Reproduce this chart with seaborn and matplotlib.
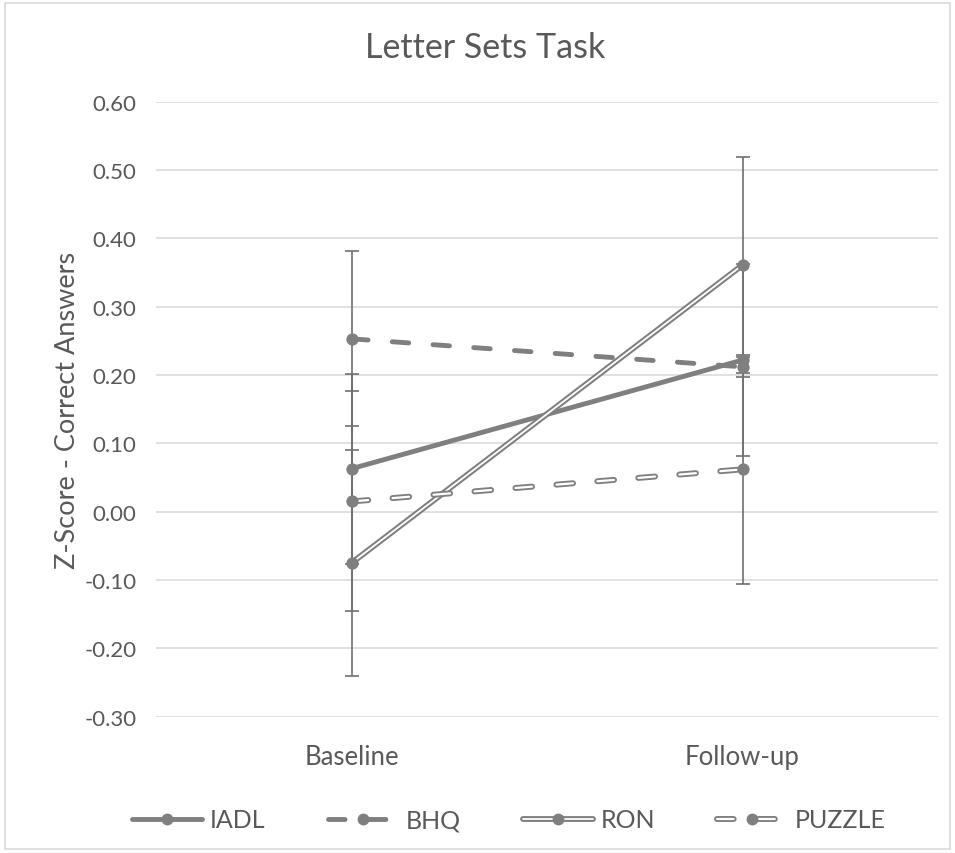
import matplotlib
matplotlib.use("Agg")
import matplotlib.pyplot as plt
import matplotlib.patheffects as pe
from matplotlib.lines import Line2D
from matplotlib.patches import Rectangle
import pandas as pd
import seaborn as sns

# values
TIMEPOINTS = ["Baseline", "Follow-up"]
GROUPS = ["IADL", "BHQ", "RON", "PUZZLE"]
BASELINE = [0.063, 0.253, -0.075, 0.015]
FOLLOWUP = [0.222, 0.212, 0.361, 0.062]
BASELINE_ERR = [0.139, 0.128, 0.166, 0.161]
FOLLOWUP_ERR = [0.140, 0.015, 0.158, 0.168]
Y_TICKS = [-0.30, -0.20, -0.10, 0.00, 0.10, 0.20, 0.30, 0.40, 0.50, 0.60]

GRAY = "#7f7f7f"
ERR_GRAY = "#707070"
TEXT = "#595959"
GRID = "#d9d9d9"

sns.set_theme(style="white")
plt.rcParams["font.family"] = ["Lato", "DejaVu Sans"]

rows = []
for g, b, f, be, fe in zip(GROUPS, BASELINE, FOLLOWUP, BASELINE_ERR, FOLLOWUP_ERR):
    rows.append({"group": g, "time": TIMEPOINTS[0], "z": b, "err": be})
    rows.append({"group": g, "time": TIMEPOINTS[1], "z": f, "err": fe})
df = pd.DataFrame(rows)

# line styling per group: solid, dashed, double, dashed double
styles = {
    "IADL": dict(color=GRAY, linewidth=3.5, linestyle="-", path_effects=None),
    "BHQ": dict(color=GRAY, linewidth=3.5, linestyle=(0, (3.4, 5)), path_effects=None),
    "RON": dict(color="white", linewidth=1.3, linestyle="-",
                path_effects=[pe.Stroke(linewidth=4.2, foreground=GRAY), pe.Normal()]),
    "PUZZLE": dict(color="white", linewidth=1.6, linestyle=(0, (7.5, 11)),
                   path_effects=[pe.Stroke(linewidth=4.3, foreground=GRAY), pe.Normal()]),
}

fig = plt.figure(figsize=(9.55, 8.54), dpi=100)
ax = fig.add_axes([0.1634, 0.1596, 0.8188, 0.7201])

handles = []
for g in GROUPS:
    sub = df[df["group"] == g]
    st = styles[g]
    ax.errorbar(sub["time"], sub["z"], yerr=sub["err"], fmt="none", ecolor=ERR_GRAY,
                elinewidth=1.2, capsize=5, capthick=1.2, zorder=2)
    sns.lineplot(data=sub, x="time", y="z", ax=ax, sort=False, zorder=3,
                 color=st["color"], linewidth=st["linewidth"], linestyle=st["linestyle"],
                 dash_capstyle="round", path_effects=st["path_effects"], legend=False)
    sns.scatterplot(data=sub, x="time", y="z", ax=ax, color=GRAY, s=78,
                    edgecolor=GRAY, linewidth=0, zorder=4, legend=False)
    line_h = Line2D([], [], color=st["color"], linewidth=st["linewidth"],
                    linestyle=st["linestyle"], dash_capstyle="round")
    if st["path_effects"]:
        line_h.set_path_effects(st["path_effects"])
    mark_h = Line2D([], [], linestyle="none", marker="o", markersize=7.5,
                    markerfacecolor=GRAY, markeredgecolor=GRAY)
    handles.append((line_h, mark_h))

ax.set_xlim(-0.5, 1.5)
ax.set_ylim(-0.30, 0.60)
ax.set_yticks(Y_TICKS)
ax.set_yticklabels([f"{t:.2f}" for t in Y_TICKS])
ax.yaxis.grid(True, color=GRID, linewidth=1.1)
ax.xaxis.grid(False)
ax.set_axisbelow(True)
for s in ax.spines.values():
    s.set_visible(False)
ax.tick_params(axis="both", length=0, labelcolor=TEXT)
ax.tick_params(axis="y", pad=14, labelsize=16)
ax.tick_params(axis="x", pad=20, labelsize=18.5)
ax.set_xlabel("")
ax.set_ylabel("Z-Score - Correct Answers", fontsize=19.5, color=TEXT, labelpad=3)

fig.text(0.5085, 1 - 48 / 854, "Letter Sets Task", fontsize=24.5, color=TEXT,
         ha="center", va="center")

fig.legend(handles, GROUPS, loc="center", bbox_to_anchor=(0.533, 1 - 821 / 854),
           ncol=4, frameon=False, fontsize=18, labelcolor=TEXT,
           handlelength=2.8, handletextpad=0.3, columnspacing=2.5)

fig.add_artist(Rectangle((0.005, 0.005), 0.99, 0.99, transform=fig.transFigure,
                         fill=False, edgecolor=GRID, linewidth=1.2))

fig.savefig("out.png", dpi=100)
